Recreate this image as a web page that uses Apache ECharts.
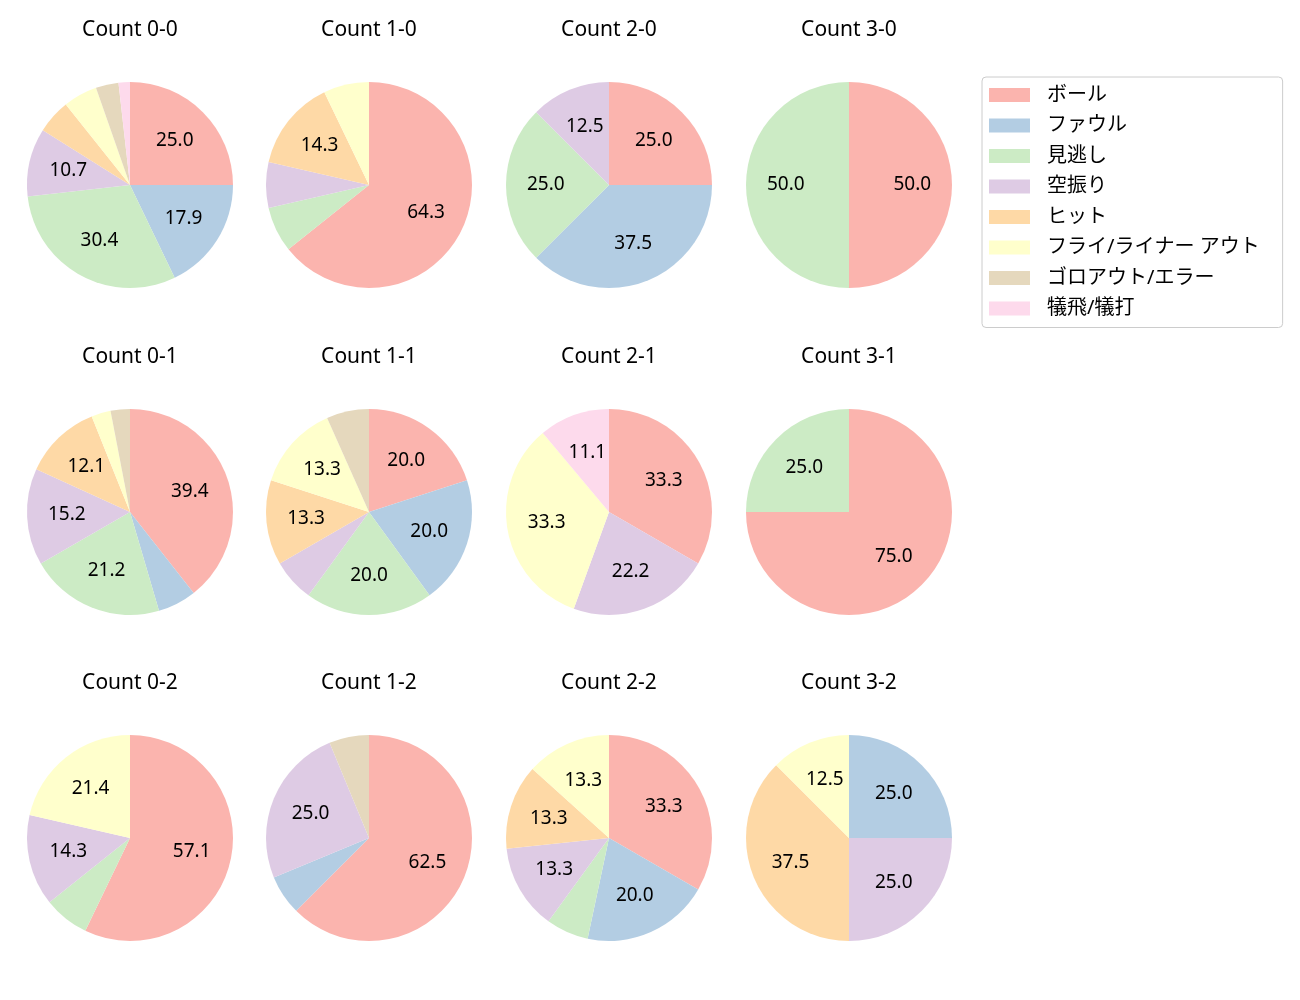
<!DOCTYPE html>
<html>
<head>
<meta charset="utf-8">
<script src="https://cdn.jsdelivr.net/npm/echarts@6/dist/echarts.min.js"></script>
<style>html,body{margin:0;padding:0;background:#fff;}#c{width:1300px;height:1000px;}</style>
</head>
<body>
<div id="c"></div>
<script>
const categories = ['ボール', 'ファウル', '見逃し', '空振り', 'ヒット', 'フライ/ライナー アウト', 'ゴロアウト/エラー', '犠飛/犠打'];
const colors = ['#fbb4ae', '#b3cde3', '#ccebc5', '#decbe4', '#fed9a6', '#ffffcc', '#e5d8bd', '#fddaec'];
const titles = ['Count 0-0', 'Count 1-0', 'Count 2-0', 'Count 3-0',
                'Count 0-1', 'Count 1-1', 'Count 2-1', 'Count 3-1',
                'Count 0-2', 'Count 1-2', 'Count 2-2', 'Count 3-2'];
// counts per category (same order as categories)
const count00 = [14, 10, 17, 6, 3, 3, 2, 1];
const count10 = [9, 0, 1, 1, 2, 1, 0, 0];
const count20 = [2, 3, 2, 1, 0, 0, 0, 0];
const count30 = [1, 0, 1, 0, 0, 0, 0, 0];
const count01 = [13, 2, 7, 5, 4, 1, 1, 0];
const count11 = [3, 3, 3, 1, 2, 2, 1, 0];
const count21 = [3, 0, 0, 2, 0, 3, 0, 1];
const count31 = [3, 0, 1, 0, 0, 0, 0, 0];
const count02 = [8, 0, 1, 2, 0, 3, 0, 0];
const count12 = [10, 1, 0, 4, 0, 0, 1, 0];
const count22 = [5, 3, 1, 2, 2, 2, 0, 0];
const count32 = [0, 2, 0, 2, 3, 1, 0, 0];
const allCounts = [count00, count10, count20, count30, count01, count11, count21, count31, count02, count12, count22, count32];

const colX = [130, 369, 609, 849];
const rowY = [185, 512, 838];
const R = 103;
const FONT = '"Noto Sans", "Noto Sans CJK JP", sans-serif';

const chart = echarts.init(document.getElementById('c'), null, {renderer: 'canvas'});
const series = [];
const title = [];
allCounts.forEach((vals, i) => {
  const cx = colX[i % 4], cy = rowY[Math.floor(i / 4)];
  const data = [];
  vals.forEach((v, k) => { if (v > 0) data.push({name: categories[k], value: v, itemStyle: {color: colors[k]}}); });
  series.push({
    type: 'pie', center: [cx, cy], radius: [0, R], startAngle: 90, clockwise: true,
    silent: true, label: {show: false}, labelLine: {show: false},
    itemStyle: {borderWidth: 0}, emphasis: {disabled: true}, data: data
  });
  series.push({
    type: 'pie', center: [cx, cy], radius: [R * 0.17, R], startAngle: 90, clockwise: true,
    silent: true, legendHoverLink: false,
    itemStyle: {color: 'rgba(0,0,0,0)', borderWidth: 0},
    emphasis: {disabled: true},
    label: {
      show: true, position: 'inside', color: '#000', fontSize: 19, fontFamily: FONT,
      formatter: p => p.percent >= 10 ? p.percent.toFixed(1) : ''
    },
    labelLine: {show: false},
    data: data.map(d => ({name: d.name, value: d.value, itemStyle: {color: 'rgba(0,0,0,0)'}}))
  });
  title.push({
    text: titles[i], left: cx, top: cy - 165, textAlign: 'center', padding: 0,
    textStyle: {fontSize: 21, fontWeight: 'normal', color: '#000', fontFamily: FONT}
  });
});

chart.setOption({
  animation: false,
  backgroundColor: '#fff',
  title: title,
  legend: {
    orient: 'vertical', left: 982, top: 77,
    itemWidth: 41, itemHeight: 14, itemGap: 10.5,
    icon: 'rect',
    padding: [8, 23, 9, 7],
    borderColor: '#cccccc', borderWidth: 1, borderRadius: 4,
    selectedMode: false,
    textStyle: {fontSize: 20, lineHeight: 19, color: '#000', fontFamily: FONT, padding: [0, 0, 0, 12]},
    data: categories.map((c, k) => ({name: c, itemStyle: {color: colors[k]}}))
  },
  series: series
});
</script>
</body>
</html>
